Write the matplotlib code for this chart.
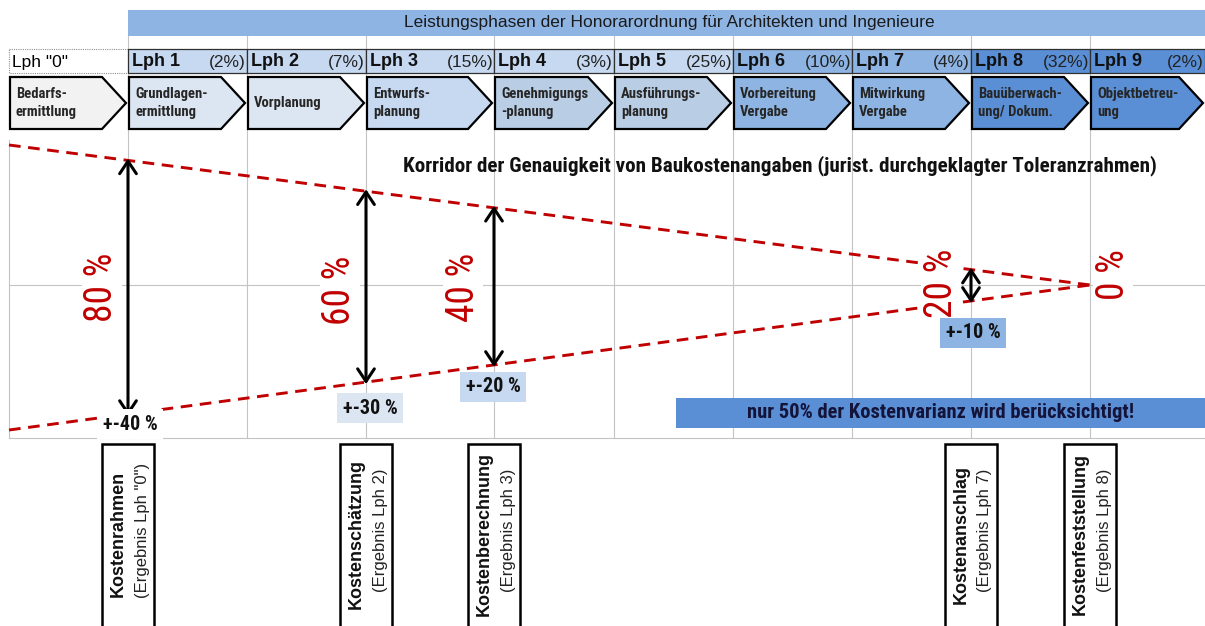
import matplotlib
matplotlib.use("Agg")
import matplotlib.pyplot as plt
from matplotlib.patches import Polygon, Rectangle
import numpy as np

plt.rcParams["font.family"] = ["Liberation Sans", "DejaVu Sans"]
NARROW = ["Roboto Condensed", "Archivo Narrow", "Liberation Sans", "DejaVu Sans"]

# Leistungsphasen (HOAI) with their share of the fee
phase_labels = ['Lph "0"', "Lph 1", "Lph 2", "Lph 3", "Lph 4", "Lph 5",
                "Lph 6", "Lph 7", "Lph 8", "Lph 9"]
fee_shares = [None, 2, 7, 15, 3, 25, 10, 4, 32, 2]
phase_tasks = ["Bedarfs-\nermittlung", "Grundlagen-\nermittlung", "Vorplanung",
               "Entwurfs-\nplanung", "Genehmigungs\n-planung", "Ausführungs-\nplanung",
               "Vorbereitung\nVergabe", "Mitwirkung\nVergabe", "Bauüberwach-\nung/ Dokum.",
               "Objektbetreu-\nung"]
header_colors = ["white", "#c6d9f1", "#c6d9f1", "#c6d9f1", "#c6d9f1", "#c6d9f1",
                 "#8db4e2", "#8db4e2", "#5a8fd6", "#5a8fd6"]
task_colors = ["#f2f2f2", "#dce6f2", "#dce6f2", "#c6d9f1", "#b9cde5", "#b9cde5",
               "#8db4e2", "#8db4e2", "#5a8fd6", "#5a8fd6"]

# cost estimates, placed at the end of the phase that produces them
stage_edges = [1, 3, 4, 8, 9]
stage_names = ["Kostenrahmen", "Kostenschätzung", "Kostenberechnung",
               "Kostenanschlag", "Kostenfeststellung"]
stage_sources = ['(Ergebnis Lph "0")', "(Ergebnis Lph 2)", "(Ergebnis Lph 3)",
                 "(Ergebnis Lph 7)", "(Ergebnis Lph 8)"]
corridor_total = [80, 60, 40, 20, 0]
tolerances = [40, 30, 20, 10]
tolerance_colors = ["white", "#dce6f2", "#c6d9f1", "#8db4e2"]

# corridor borders (sheet pixels) from the left sheet edge to the apex
corridor_upper = [145, 285]
corridor_lower = [430, 285]

# sheet layout (pixels)
col_edges = [9, 128, 247, 366, 494, 614, 733, 852, 971, 1090, 1205]
pct_label_pos = [(102, 287), (340, 290), (463, 287), (941, 283), (1113, 275)]
tol_label_pos = [(130, 424), (370, 408), (493, 387), (973, 333)]

RED = "#c00000"
GRID = "#c4c4c4"

fig = plt.figure(figsize=(12.05, 6.26), dpi=100)
ax = fig.add_axes([0, 0, 1, 1])
ax.set_xlim(0, 1205)
ax.set_ylim(626, 0)
ax.axis("off")

# spreadsheet gridlines
for x in col_edges[1:10]:
    ax.plot([x, x], [36, 438], color=GRID, lw=0.8, zorder=0.5)
ax.plot([col_edges[0]] * 2, [140, 438], color=GRID, lw=0.8, zorder=0.5)
for y in [285, 438]:
    ax.plot([col_edges[0], 1205], [y, y], color=GRID, lw=0.8, zorder=0.5)

# banner
ax.add_patch(Rectangle((128, 10), 1205 - 128, 26, facecolor="#8eb4e3",
                       edgecolor="none", zorder=1))
ax.text(669, 23, "Leistungsphasen der Honorarordnung für Architekten und Ingenieure",
        ha="center", va="center", fontsize=12.5, color="#1a1a1a", zorder=2)

# phase headers and task chevrons
for i, (lab, share, task) in enumerate(zip(phase_labels, fee_shares, phase_tasks)):
    x0, x1 = col_edges[i], col_edges[i + 1]
    if share is None:
        ax.add_patch(Rectangle((x0, 49), x1 - x0, 24, facecolor="white",
                               edgecolor="#909090", lw=0.8, ls=(0, (1, 1)), zorder=1))
        ax.text(x0 + 3, 62, lab, ha="left", va="center", fontsize=12.5, zorder=2)
    else:
        ax.add_patch(Rectangle((x0, 49), x1 - x0, 24, facecolor=header_colors[i],
                               edgecolor="#303030", lw=0.9, zorder=1))
        ax.text(x0 + 4, 62, lab, ha="left", va="center", fontsize=13,
                fontweight="bold", color="#111111", zorder=2)
        ax.text(x1 - 1, 62, f"({share}%)", ha="right", va="center", fontsize=12.5,
                color="#222222", zorder=2)
    pts = [(x0 + 1, 77), (x1 - 26, 77), (x1 - 2, 103), (x1 - 26, 129), (x0 + 1, 129)]
    ax.add_patch(Polygon(pts, closed=True, facecolor=task_colors[i],
                         edgecolor="black", lw=1.6, joinstyle="miter", zorder=2))
    ax.text(x0 + 7, 103, task, ha="left", va="center", fontsize=10.5,
            family=NARROW, fontweight="bold", color="#262626", linespacing=1.3, zorder=3)

# corridor of accuracy
cx = [col_edges[0], col_edges[9]]
dash = (0, (4, 2.6))
ax.plot(cx, corridor_upper, color=RED, lw=2.1, ls=dash, zorder=2)
ax.plot(cx, corridor_lower, color=RED, lw=2.1, ls=dash, zorder=2)

ax.text(1157, 166, "Korridor der Genauigkeit von Baukostenangaben "
        "(jurist. durchgeklagter Toleranzrahmen)", ha="right", va="center",
        fontsize=15.2, family=NARROW, fontweight="bold", color="#111111", zorder=4)

stage_x = [col_edges[e] for e in stage_edges]
for j, x in enumerate(stage_x):
    if corridor_total[j] > 0:
        top = np.interp(x, cx, corridor_upper)
        bot = np.interp(x, cx, corridor_lower)
        ax.annotate("", xy=(x, top - 2), xytext=(x, bot + 2),
                    arrowprops=dict(arrowstyle="<->,head_length=0.45,head_width=0.3",
                                    lw=2.2, color="black", mutation_scale=20,
                                    shrinkA=0, shrinkB=0), zorder=3)
    px, py = pct_label_pos[j]
    ax.text(px, py, f"{corridor_total[j]} %", rotation=90, ha="center", va="center",
            fontsize=27, family=NARROW, color=RED, zorder=4,
            bbox=dict(boxstyle="square,pad=0.05", facecolor="white", edgecolor="none"))

for tol, col, (tx, ty) in zip(tolerances, tolerance_colors, tol_label_pos):
    ax.text(tx, ty, f"+-{tol} %", ha="center", va="center", fontsize=14.5,
            family=NARROW, fontweight="bold", color="#111111", zorder=5,
            bbox=dict(boxstyle="square,pad=0.28", facecolor=col, edgecolor="none"))

ax.add_patch(Rectangle((676, 398), 1205 - 676, 30, facecolor="#5a8fd6",
                       edgecolor="none", zorder=3))
ax.text(941, 412, "nur 50% der Kostenvarianz wird berücksichtigt!", ha="center",
        va="center", fontsize=14.8, family=NARROW, fontweight="bold",
        color="#14143a", zorder=4)

# result documents of the cost planning
for x, name, src in zip(stage_x, stage_names, stage_sources):
    ax.add_patch(Rectangle((x - 26, 444), 52, 200, facecolor="white",
                           edgecolor="black", lw=1.8, zorder=3))
    ax.text(x - 10, 534, name, rotation=90, ha="center", va="center", fontsize=13,
            fontweight="bold", color="#111111", zorder=4)
    ax.text(x + 14, 530, src, rotation=90, ha="center", va="center", fontsize=12,
            color="#222222", zorder=4)

fig.savefig("out.png", dpi=100)
